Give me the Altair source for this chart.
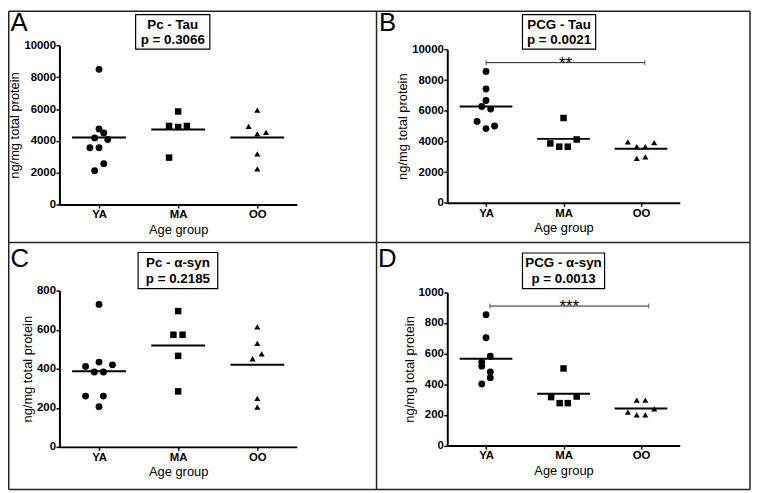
import altair as alt
import pandas as pd

GROUPS = ["YA", "MA", "OO"]

# ---- Panel A : Pc - Tau ----
A_YA = [8500, 4750, 4500, 4190, 4090, 3570, 3570, 2570, 2120]
A_YA_J = [0, 0, 0.06, -0.055, 0.11, -0.115, 0, 0.06, -0.055]
A_MA = [5850, 4940, 4875, 4940, 2950]
A_MA_J = [0, -0.115, 0, 0.11, -0.115]
A_OO = [5930, 4920, 4440, 4540, 3190, 2240]
A_OO_J = [0, -0.11, 0, 0.11, 0, 0]

# ---- Panel B : PCG - Tau ----
B_YA = [8560, 7420, 6670, 6280, 6110, 5310, 4840, 5010]
B_YA_J = [0, 0, 0, -0.055, 0.06, -0.115, 0, 0.11]
B_MA = [5530, 3870, 3660, 3660, 4130]
B_MA_J = [0, -0.17, -0.055, 0.055, 0.17]
B_OO = [3980, 3660, 3660, 3920, 2900, 2990]
B_OO_J = [-0.17, -0.055, 0.055, 0.17, -0.055, 0.055]

# ---- Panel C : Pc - a-syn ----
C_YA = [729, 412, 434, 420, 383, 383, 260, 260, 206]
C_YA_J = [0, -0.17, 0, 0.17, -0.06, 0.055, -0.17, 0.055, 0]
C_MA = [695, 574, 574, 466, 284]
C_MA_J = [0, -0.06, 0.055, 0, 0]
C_OO = [614, 530, 476, 451, 248, 203]
C_OO_J = [0, 0, 0.055, -0.06, 0, 0]

# ---- Panel D : PCG - a-syn ----
D_YA = [854, 703, 583, 544, 518, 480, 443, 402]
D_YA_J = [0, 0, 0.055, -0.055, -0.055, 0.055, 0.055, -0.055]
D_MA = [503, 316, 277, 277, 320]
D_MA_J = [0, -0.16, -0.05, 0.055, 0.17]
D_OO = [219, 297, 297, 200, 200, 239]
D_OO_J = [-0.17, -0.055, 0.055, -0.055, 0.055, 0.17]

TITLES = ["Pc - Tau", "PCG - Tau", "Pc - α-syn", "PCG - α-syn"]
PVALS = ["p = 0.3066", "p = 0.0021", "p = 0.2185", "p = 0.0013"]
LETTERS = ["A", "B", "C", "D"]
Y_TICKS_TAU = [0, 2000, 4000, 6000, 8000, 10000]
Y_TICKS_C = [0, 200, 400, 600, 800]
Y_TICKS_D = [0, 200, 400, 600, 800, 1000]
BRACKET_B = {"x1": 0.0, "x2": 2.05, "y": 9140, "stars": "**"}
BRACKET_D = {"x1": 0.05, "x2": 2.1, "y": 910, "stars": "***"}

FONT = "Liberation Sans"
W, H = 751, 485


def R(v):
    # reference pixel -> chart pixel (page has an 8px margin)
    return v - 8


LABEL_EXPR = "[" + ",".join("'%s'" % g for g in GROUPS) + "][datum.value]"


def panel(vals, jits, ydom, yticks, xr, yr, bracket=None):
    rows = []
    for gi, g in enumerate(GROUPS):
        for v, j in zip(vals[gi], jits[gi]):
            rows.append({"group": g, "xpos": gi + j, "value": v})
    df = pd.DataFrame(rows)
    means = df.groupby("group", sort=False)["value"].mean().reset_index()
    gidx = [GROUPS.index(g) for g in means["group"]]
    means["x1"] = [i - 0.34 for i in gidx]
    means["x2"] = [i + 0.34 for i in gidx]

    def xs():
        return alt.Scale(domain=[-0.5, 2.5], range=[R(xr[0]), R(xr[1])], nice=False, zero=False)

    def ys():
        return alt.Scale(domain=ydom, range=[R(yr[0]), R(yr[1])], nice=False, zero=False)

    common = dict(
        domainColor="black", domainWidth=2, tickColor="black", tickWidth=1.5, tickSize=3.5,
        labelFont=FONT, labelFontSize=11.5, labelFontWeight="bold", labelColor="black",
        titleFont=FONT, titleFontSize=13, titleFontWeight="normal", titleColor="black",
        grid=False,
    )
    xaxis = alt.Axis(values=[0, 1, 2], labelExpr=LABEL_EXPR, orient="bottom",
                     offset=R(yr[0]) - H, title="Age group", labelPadding=1,
                     titlePadding=3, labelFlush=False, **common)
    yaxis = alt.Axis(values=yticks, orient="left", offset=-R(xr[0]), format="d",
                     title="ng/mg total protein", labelPadding=0.5, titlePadding=2, **common)

    pts = alt.Chart(df).mark_point(filled=True, opacity=1, color="black").encode(
        x=alt.X("xpos:Q", scale=xs(), axis=xaxis),
        y=alt.Y("value:Q", scale=ys(), axis=yaxis),
        shape=alt.Shape("group:N", scale=alt.Scale(domain=GROUPS, range=["circle", "square", "triangle-up"]), legend=None),
        size=alt.Size("group:N", scale=alt.Scale(domain=GROUPS, range=[48, 38, 48]), legend=None),
    )
    mean = alt.Chart(means).mark_rule(color="black", strokeWidth=2).encode(
        x=alt.X("x1:Q", scale=xs(), axis=None), x2="x2:Q",
        y=alt.Y("value:Q", scale=ys(), axis=None))
    layers = [pts, mean]
    if bracket is not None:
        bdf = pd.DataFrame([bracket])
        ends = pd.DataFrame({"x": [bracket["x1"], bracket["x2"]], "y": [bracket["y"]] * 2})
        mid = pd.DataFrame({"x": [(bracket["x1"] + bracket["x2"]) / 2], "y": [bracket["y"]],
                            "s": [bracket["stars"]]})
        layers.append(alt.Chart(bdf).mark_rule(color="#222", strokeWidth=1).encode(
            x=alt.X("x1:Q", scale=xs(), axis=None), x2="x2:Q",
            y=alt.Y("y:Q", scale=ys(), axis=None)))
        layers.append(alt.Chart(ends).mark_tick(orient="vertical", size=5, thickness=1, color="#222").encode(
            x=alt.X("x:Q", scale=xs(), axis=None), y=alt.Y("y:Q", scale=ys(), axis=None)))
        layers.append(alt.Chart(mid).mark_text(font=FONT, fontSize=17, baseline="alphabetic", dy=6,
                                               color="black").encode(
            x=alt.X("x:Q", scale=xs(), axis=None), y=alt.Y("y:Q", scale=ys(), axis=None), text="s:N"))
    return layers


pA = panel([A_YA, A_MA, A_OO], [A_YA_J, A_MA_J, A_OO_J], [0, 10000], Y_TICKS_TAU,
           (60, 300), (204, 43.3))
pB = panel([B_YA, B_MA, B_OO], [B_YA_J, B_MA_J, B_OO_J], [0, 10000], Y_TICKS_TAU,
           (452, 687), (202.3, 47.3), BRACKET_B)
pC = panel([C_YA, C_MA, C_OO], [C_YA_J, C_MA_J, C_OO_J], [0, 800], Y_TICKS_C,
           (60, 300), (449, 291))
pD = panel([D_YA, D_MA, D_OO], [D_YA_J, D_MA_J, D_OO_J], [0, 1000], Y_TICKS_D,
           (452, 687), (447.7, 292.7), BRACKET_D)

one = pd.DataFrame({"k": [0]})


def line(x1, x2, y1, y2):
    return alt.Chart(one).mark_rule(color="#222", strokeWidth=1.5).encode(
        x=alt.value(x1), x2=alt.value(x2), y=alt.value(y1), y2=alt.value(y2))


frame = [
    line(0.75, 0.75, 0.75, R(492)),
    line(R(758), R(758), 0.75, R(492)),
    line(0.75, R(758), 0.75, 0.75),
    line(0.75, R(758), R(492), R(492)),
    line(R(380.5), R(380.5), 0.75, R(492)),
    line(0.75, R(758), R(242.5), R(242.5)),
]


def box(i, x1, x2, y1, y2, b1, b2):
    r = alt.Chart(one).mark_rect(fill="white", stroke="black", strokeWidth=1.2).encode(
        x=alt.value(R(x1)), x2=alt.value(R(x2)), y=alt.value(R(y1)), y2=alt.value(R(y2)))
    cx = R((x1 + x2) / 2)
    t1 = alt.Chart(pd.DataFrame({"t": [TITLES[i]]})).mark_text(
        font=FONT, fontSize=13.5, fontWeight="bold", baseline="alphabetic", align="center", color="black"
    ).encode(x=alt.value(cx), y=alt.value(R(b1)), text="t:N")
    t2 = alt.Chart(pd.DataFrame({"t": [PVALS[i]]})).mark_text(
        font=FONT, fontSize=13.5, fontWeight="bold", baseline="alphabetic", align="center", color="black"
    ).encode(x=alt.value(cx), y=alt.value(R(b2)), text="t:N")
    return [r, t1, t2]


boxes = (box(0, 137, 212, 12, 47, 26.5, 42)
         + box(1, 528, 602, 12, 47, 26.5, 42)
         + box(2, 139.5, 220, 252.5, 289, 267.5, 283)
         + box(3, 528, 611, 253, 289, 267.5, 283))


def letter(i, x, y):
    return alt.Chart(pd.DataFrame({"t": [LETTERS[i]]})).mark_text(
        font=FONT, fontSize=26, baseline="alphabetic", align="left", color="black"
    ).encode(x=alt.value(x), y=alt.value(y), text="t:N")


letters = [letter(0, 2.5, 21), letter(1, R(383), 21), letter(2, 2.5, R(267)), letter(3, R(382), R(267))]

chart = alt.layer(*pA, *pB, *pC, *pD, *frame, *boxes, *letters).resolve_scale(
    x="independent", y="independent"
).resolve_axis(
    x="independent", y="independent"
).properties(
    width=W, height=H, padding=0, background="white",
    autosize=alt.AutoSizeParams(type="none"),
).configure_view(strokeWidth=0)

chart.save("out.html", embed_options={"renderer": "svg", "actions": False})
